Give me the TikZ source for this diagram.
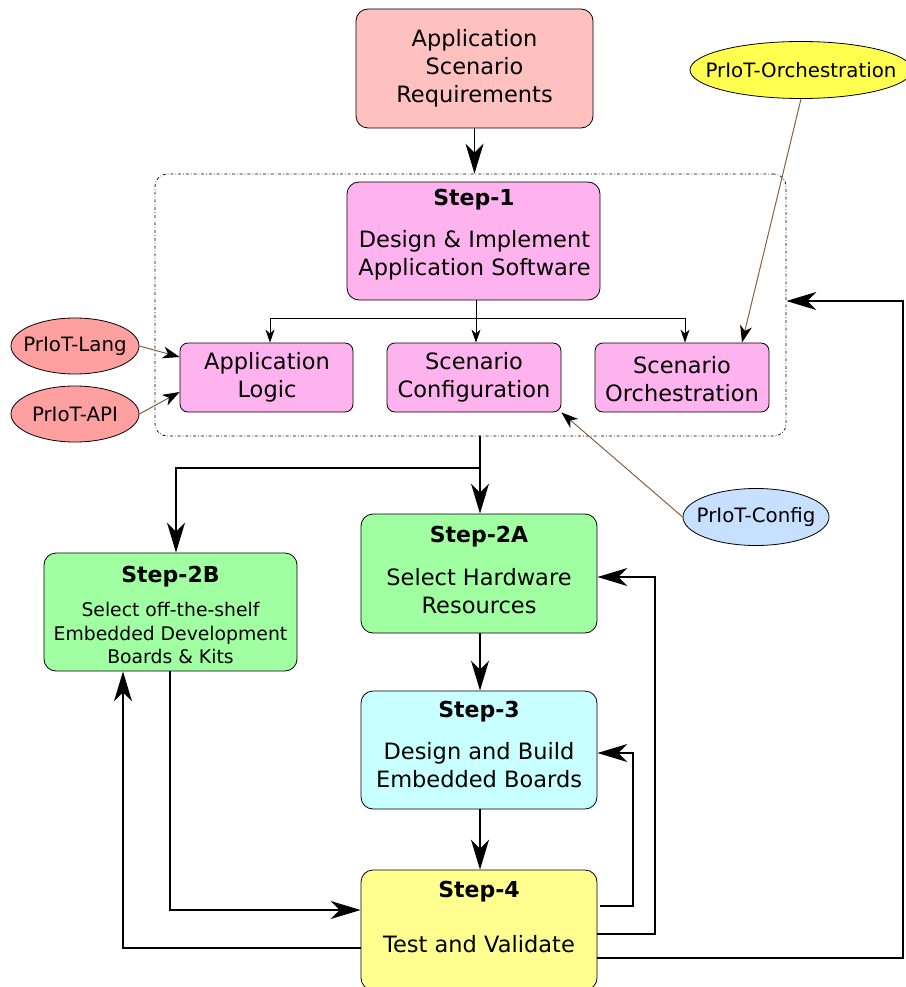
\documentclass[tikz,border=0pt]{standalone}
\usepackage{fontspec}
\setmainfont{DejaVu Sans}
\usetikzlibrary{arrows.meta,shapes.geometric}
\definecolor{reqc}{HTML}{FFC0C0}
\definecolor{swc}{HTML}{FFB3EE}
\definecolor{grc}{HTML}{A0FFA0}
\definecolor{cyc}{HTML}{C8FFFF}
\definecolor{yec}{HTML}{FFFF90}
\definecolor{salc}{HTML}{FFA0A0}
\definecolor{orc}{HTML}{FFFF50}
\definecolor{blc}{HTML}{C8E0FF}
\definecolor{brc}{HTML}{8B5E3C}
\tikzset{
  box/.style={draw=black, line width=0.8pt, rounded corners=12pt, inner sep=0pt},
  ell/.style={draw=black, line width=0.8pt, ellipse, inner sep=0pt},
  big/.style={line width=1.8pt, -{Stealth[length=30pt,width=18pt,inset=9pt]}},
  thin/.style={line width=0.8pt, -{Stealth[length=13pt,width=9pt,inset=4pt]}},
  brown/.style={draw=brc, line width=1pt, -{Stealth[length=17pt,width=12pt,inset=5pt,black]}},
  txt/.style={font=\fontsize{22.5}{28}\selectfont, align=center, inner sep=0pt},
  ttl/.style={font=\fontsize{22}{26}\selectfont\bfseries, inner sep=0pt},
  stxt/.style={font=\fontsize{18.8}{23.5}\selectfont, align=center, inner sep=0pt},
  etxt/.style={font=\fontsize{19.8}{22}\selectfont, inner sep=0pt},
}
\begin{document}
\begin{tikzpicture}[x=1pt,y=-1pt]
\useasboundingbox (0,0) rectangle (905,987);
% container
\node[draw=black, line width=0.7pt, dash dot, rounded corners=12pt, minimum width=631pt, minimum height=262pt, inner sep=0pt] (cont) at (470.5,305) {};
% requirements
\node[box, fill=reqc, minimum width=237pt, minimum height=119pt] (req) at (474.5,68.5) {};
\node[txt] at (474.5,68) {Application\\Scenario\\Requirements};
% step 1
\node[box, fill=swc, minimum width=253pt, minimum height=118pt] (s1) at (473.5,241) {};
\node[ttl] at (474,200) {Step-1};
\node[txt] at (474.5,255) {Design \& Implement\\Application Software};
% sub boxes
\node[box, fill=swc, rounded corners=8pt, minimum width=173pt, minimum height=69pt] (al) at (266.5,377.5) {};
\node[txt] at (267,377) {Application\\Logic};
\node[box, fill=swc, rounded corners=8pt, minimum width=174pt, minimum height=69pt] (sc) at (474,377.5) {};
\node[txt] at (474,377) {Scenario\\Configuration};
\node[box, fill=swc, rounded corners=8pt, minimum width=174pt, minimum height=69pt] (so) at (682,377.5) {};
\node[txt] at (682,379) {Scenario\\Orchestration};
% ellipses
\node[ell, fill=salc, minimum width=128pt, minimum height=56pt] (lang) at (75,346) {};
\node[etxt] at (75,346) {PrIoT-Lang};
\node[ell, fill=salc, minimum width=128pt, minimum height=56pt] (api) at (75,414) {};
\node[etxt] at (75,414) {PrIoT-API};
\node[ell, fill=orc, minimum width=222pt, minimum height=57pt] (orch) at (801,70) {};
\node[etxt] at (801,70) {PrIoT-Orchestration};
\node[ell, fill=blc, minimum width=146pt, minimum height=57pt] (cfg) at (756,517) {};
\node[etxt] at (756,517) {PrIoT-Config};
% step 2A
\node[box, fill=grc, minimum width=236pt, minimum height=119pt] (s2a) at (479,573.5) {};
\node[ttl] at (479,537) {Step-2A};
\node[txt] at (479,591) {Select Hardware\\Resources};
% step 2B
\node[box, fill=grc, minimum width=253pt, minimum height=118pt] (s2b) at (170.5,612) {};
\node[ttl] at (170.5,577) {Step-2B};
\node[stxt] at (170.5,633) {Select off-the-shelf\\Embedded Development\\Boards \& Kits};
% step 3
\node[box, fill=cyc, minimum width=236pt, minimum height=118pt] (s3) at (479,750) {};
\node[ttl] at (479,712) {Step-3};
\node[txt] at (479,765) {Design and Build\\Embedded Boards};
% step 4
\node[box, fill=yec, minimum width=236pt, minimum height=120pt] (s4) at (479,930) {};
\node[ttl] at (479,892) {Step-4};
\node[txt] at (479,944) {Test and Validate};
% coordinates
\coordinate (b1) at (476,318);
% connectors
\draw[big] (req.south) -- (cont.north -| req.south);
\draw[line width=0.8pt] (s1.south -| b1) -- (b1);
\draw[thin] (b1) -| (al.north -| 270,0);
\draw[thin] (b1) -- (sc.north -| b1);
\draw[thin] (b1) -| (so.north -| 685,0);
\draw[brown] (lang.east) -- (al.west |- 0,357);
\draw[brown] (api.east) -- (al.west |- 0,392);
\draw[brown] (orch.south) -- (so.north -| 742,0);
\draw[brown] (cfg.west) -- (sc.south east);
\coordinate (c1) at (480,468);
\draw[big] (cont.south -| c1) -- (s2a.north -| c1);
\draw[big] (c1) -- (176,468) -- (s2b.north -| 176,0);
\draw[big] (s2a.south -| 480,0) -- (s3.north -| 480,0);
\draw[big] (s3.south -| 480,0) -- (s4.north -| 480,0);
\draw[big] (s2b.south -| 170,0) -- (170,910) -- (s4.west |- 0,910);
\draw[big] (s4.west |- 0,948) -- (123,948) -- (s2b.south -| 123,0);
\draw[big] (600,906) -- (633,906) -- (633,753) -- (s3.east |- 0,753);
\draw[big] (s4.east |- 0,934) -- (655,934) -- (655,577) -- (s2a.east |- 0,577);
\draw[big] (s4.east |- 0,958) -- (903,958) -- (903,301) -- (cont.east |- 0,301);
\end{tikzpicture}
\end{document}
